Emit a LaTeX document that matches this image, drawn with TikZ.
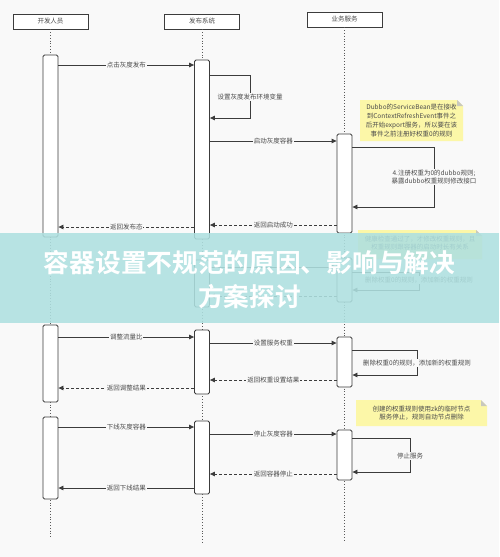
\documentclass[tikz,border=0pt]{standalone}
\usepackage{fontspec}
\setmainfont{Noto Sans CJK SC}
\newfontfamily\cjkb{Noto Sans CJK SC Bold}
\usetikzlibrary{arrows.meta}
\definecolor{bgc}{RGB}{249,249,249}
\definecolor{linec}{RGB}{60,60,60}
\definecolor{txtc}{RGB}{75,75,75}
\definecolor{notec}{RGB}{252,247,168}
\definecolor{foldc}{RGB}{200,200,190}
\definecolor{bannerc}{RGB}{174,224,224}
\begin{document}
\begin{tikzpicture}[x=1pt,y=-1pt,
  head/.style={draw=linec, line width=0.8pt, fill=white, minimum width=75pt, minimum height=15pt, inner sep=0pt, font=\fontsize{6.5}{8}\selectfont, text=txtc},
  bar/.style={draw=linec, line width=0.8pt, fill=white, rounded corners=1.5pt, minimum width=15pt, inner sep=0pt},
  life/.style={draw=linec!85, line width=0.8pt, dotted},
  msg/.style={draw=linec, line width=0.8pt, -{Triangle[length=5pt,width=4.5pt]}},
  ret/.style={msg, dash pattern=on 3pt off 2pt},
  lbl/.style={fill=bgc, inner sep=0.8pt, font=\fontsize{6.5}{8}\selectfont, text=txtc},
  notebox/.style={fill=notec, draw=none},
  notetxt/.style={font=\fontsize{6.5}{8.8}\selectfont, text=txtc, align=center, inner sep=0pt},
]
% background / bounding box
\fill[bgc] (0,0) rectangle (499,557);
\useasboundingbox (0,0) rectangle (499,557);

% heads
\node[head] (hd) at (50.5,21.5) {开发人员};
\node[head] (hb) at (202,21.5) {发布系统};
\node[head] (hs) at (344.5,19.5) {业务服务};

% lifeline ends
\coordinate (ed) at (50.5,537);
\coordinate (eb) at (202,544);
\coordinate (es) at (344.5,542);
\draw[life] (hd.south) -- (ed);
\draw[life] (hb.south) -- (eb);
\draw[life] (hs.south) -- (es);

% activation bars
\node[bar, minimum height=182pt] (d1) at (50.5,146) {};
\node[bar, minimum height=179pt] (b1) at (202,149.5) {};
\node[bar, minimum height=99pt]  (s1) at (344.5,183.5) {};
\node[bar, minimum height=47pt]  (b2) at (202,283.5) {};
\node[bar, minimum height=44pt]  (s2) at (344.5,280) {};
\node[bar, minimum height=77pt]  (d2) at (50.5,363.5) {};
\node[bar, minimum height=64pt]  (b3) at (202,362) {};
\node[bar, minimum height=50pt]  (s3) at (344.5,362) {};
\node[bar, minimum height=82pt]  (d3) at (50.5,458) {};
\node[bar, minimum height=73pt]  (b4) at (202,457.5) {};
\node[bar, minimum height=50pt]  (s4) at (344.5,455) {};

% section 1
\draw[msg] (d1.east |- 0,65) -- node[lbl] (l1) {点击灰度发布} (b1.west |- 0,65);
\draw[msg] (b1.east |- 0,75) -- ++(40.5,0) |- (b1.east |- 0,118);
\node[lbl] (l2) at (250,97) {设置灰度发布环境变量};
\draw[msg] (b1.east |- 0,141) -- node[lbl] (l3) {启动灰度容器} (s1.west |- 0,141);
\draw[msg] (s1.east |- 0,147) -- ++(82,0) |- (s1.east |- 0,207);
\node[lbl, align=center, font=\fontsize{6.5}{8.5}\selectfont] (l4) at (434,177) {4.注册权重为0的dubbo规则;\\暴露dubbo权重规则修改接口};
\draw[ret] (s1.west |- 0,225) -- node[lbl] (l5) {返回启动成功} (b1.east |- 0,225);
\draw[ret] (b1.west |- 0,227) -- node[lbl] (l6) {返回发布态} (d1.east |- 0,227);

% note 1
\fill[notebox] (360,100) -- (457,100) -- (463,106) -- (463,141) -- (360,141) -- cycle;
\fill[foldc] (457,100) -- (463,106) -- (457,106) -- cycle;
\node[notetxt] (n1) at (411.5,120.5) {Dubbo的ServiceBean是在接收\\到ContextRefreshEvent事件之\\后开始export服务，所以要在该\\事件之前注册好权重0的规则};

% section 2 (under banner)
\draw[msg] (b2.east |- 0,267) -- (s2.west |- 0,267);
\draw[msg] (s2.east |- 0,272) -- ++(67,0) |- (s2.east |- 0,290);
\node[lbl] (l8) at (419,280) {删除权重0的规则，添加新的权重规则};
\draw[ret] (s2.west |- 0,296) -- (b2.east |- 0,296);
\fill[notebox] (358,230) -- (476,230) -- (482,236) -- (482,259) -- (358,259) -- cycle;
\fill[foldc] (476,230) -- (482,236) -- (476,236) -- cycle;
\node[notetxt] (n2) at (420,243) {健康检查通过了，才修改权重规则，且\\权重规则跟容器的启动时长有关系};

% section 3
\draw[msg] (d2.east |- 0,337) -- node[lbl] (l10) {调整流量比} (b3.west |- 0,337);
\draw[msg] (b3.east |- 0,343) -- node[lbl] (l11) {设置服务权重} (s3.west |- 0,343);
\draw[msg] (s3.east |- 0,350) -- ++(65,0) |- (s3.east |- 0,375);
\node[lbl] (l12) at (417,363) {删除权重0的规则，添加新的权重规则};
\draw[ret] (s3.west |- 0,380) -- node[lbl] (l13) {返回权重设置结果} (b3.east |- 0,380);
\draw[ret] (b3.west |- 0,388) -- node[lbl] (l14) {返回调整结果} (d2.east |- 0,388);

% note 3
\fill[notebox] (356,400) -- (481,400) -- (487,406) -- (487,426) -- (356,426) -- cycle;
\fill[foldc] (481,400) -- (487,406) -- (481,406) -- cycle;
\node[notetxt] (n3) at (421.5,413) {创建的权重规则使用zk的临时节点\\服务停止，规则自动节点删除};

% section 4
\draw[msg] (d3.east |- 0,427) -- node[lbl] (l15) {下线灰度容器} (b4.west |- 0,427);
\draw[msg] (b4.east |- 0,434) -- node[lbl] (l16) {停止灰度容器} (s4.west |- 0,434);
\draw[msg] (s4.east |- 0,438) -- ++(58,0) |- (s4.east |- 0,472);
\node[lbl] (l17) at (410,456) {停止服务};
\draw[ret] (s4.west |- 0,474) -- node[lbl] (l18) {返回容器停止} (b4.east |- 0,474);
\draw[msg] (b4.west |- 0,488) -- node[lbl] (l19) {返回下线结果} (d3.east |- 0,488);

% banner
\fill[bannerc, opacity=0.88] (0,233) rectangle (499,323);
\node[font=\cjkb\fontsize{25.7}{34}\selectfont, text=white, align=center, inner sep=0pt] (title) at (249.5,280) {容器设置不规范的原因、影响与解决\\方案探讨};
\end{tikzpicture}
\end{document}
